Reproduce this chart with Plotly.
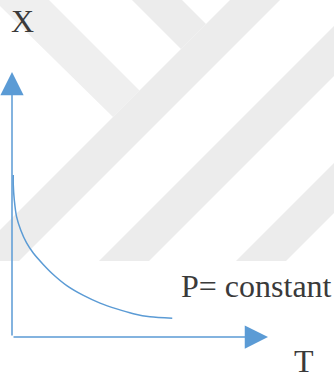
import plotly.graph_objects as go

# Isobaric curve: X falls as T rises (arbitrary units, axes run 0..10)
T_vals = [0.05, 0.05, 0.09, 0.18, 0.34, 0.57, 0.83, 1.22, 1.61, 2.14,
          2.79, 3.44, 4.09, 4.74, 5.39, 6.26]
X_vals = [6.11, 5.74, 5.17, 4.53, 4.04, 3.55, 3.17, 2.74, 2.36, 1.94,
          1.57, 1.28, 1.06, 0.88, 0.76, 0.71]

axis_len = 10
x_label = "X"
t_label = "T"
curve_label = "P= constant"

W, H = 334, 378
BLUE = "#5B9BD5"
TEXT = "#3a3a3a"
FONT = "Liberation Serif, Times New Roman, serif"


def to_paper(px, py):
    return px / W, 1 - py / H


# faint background chevron bands (pixel-space polygons)
bands = [
    ([(-6, 0), (49, 0), (139.5, 90.5), (113, 117)], "#efefef"),
    ([(132, 0), (182, 0), (206, 24), (181, 49)], "#ececec"),
    ([(230, 0), (280, 0), (19, 261), (-31, 261)], "#ececec"),
    ([(360, 0), (410, 0), (149, 261), (99, 261)], "#ececec"),
    ([(497, 0), (547, 0), (286, 261), (236, 261)], "#ececec"),
]

shapes = []
for pts, col in bands:
    coords = [to_paper(px, py) for px, py in pts]
    path = "M " + " L ".join(f"{x:.4f},{y:.4f}" for x, y in coords) + " Z"
    shapes.append(dict(type="path", path=path, xref="paper", yref="paper",
                       fillcolor=col, line=dict(width=0), layer="below"))

fig = go.Figure()
fig.add_trace(go.Scatter(
    x=T_vals, y=X_vals, mode="lines",
    line=dict(color=BLUE, width=1.5, shape="spline", smoothing=0.8),
    hoverinfo="skip", showlegend=False,
))

# axis arrows from the origin
for tip in [(axis_len, 0), (0, axis_len)]:
    fig.add_annotation(x=tip[0], y=tip[1], ax=0, ay=0,
                       xref="x", yref="y", axref="x", ayref="y",
                       text="", showarrow=True, arrowhead=2,
                       arrowsize=3.1, arrowwidth=1.5, arrowcolor=BLUE)

labels = [
    (x_label, 22.5, 21, "center"),
    (t_label, 303.5, 360.5, "center"),
    (curve_label, 179, 286, "left"),
]
for txt, px, py, anchor in labels:
    x, y = to_paper(px, py)
    fig.add_annotation(x=x, y=y, xref="paper", yref="paper", text=txt,
                       showarrow=False, xanchor=anchor, yanchor="middle",
                       font=dict(family=FONT, size=32, color=TEXT))

# origin at (12, 337) px; 10 units -> 256 px horizontally, 265 px vertically
sx, sy = 25.6, 26.5
fig.update_layout(
    width=W, height=H,
    margin=dict(l=0, r=0, t=0, b=0),
    paper_bgcolor="white", plot_bgcolor="rgba(0,0,0,0)",
    shapes=shapes,
    xaxis=dict(range=[-12 / sx, (W - 12) / sx], visible=False, fixedrange=True),
    yaxis=dict(range=[-(H - 337) / sy, 337 / sy], visible=False, fixedrange=True),
)

fig.write_html("out.html", config={"displayModeBar": False})
